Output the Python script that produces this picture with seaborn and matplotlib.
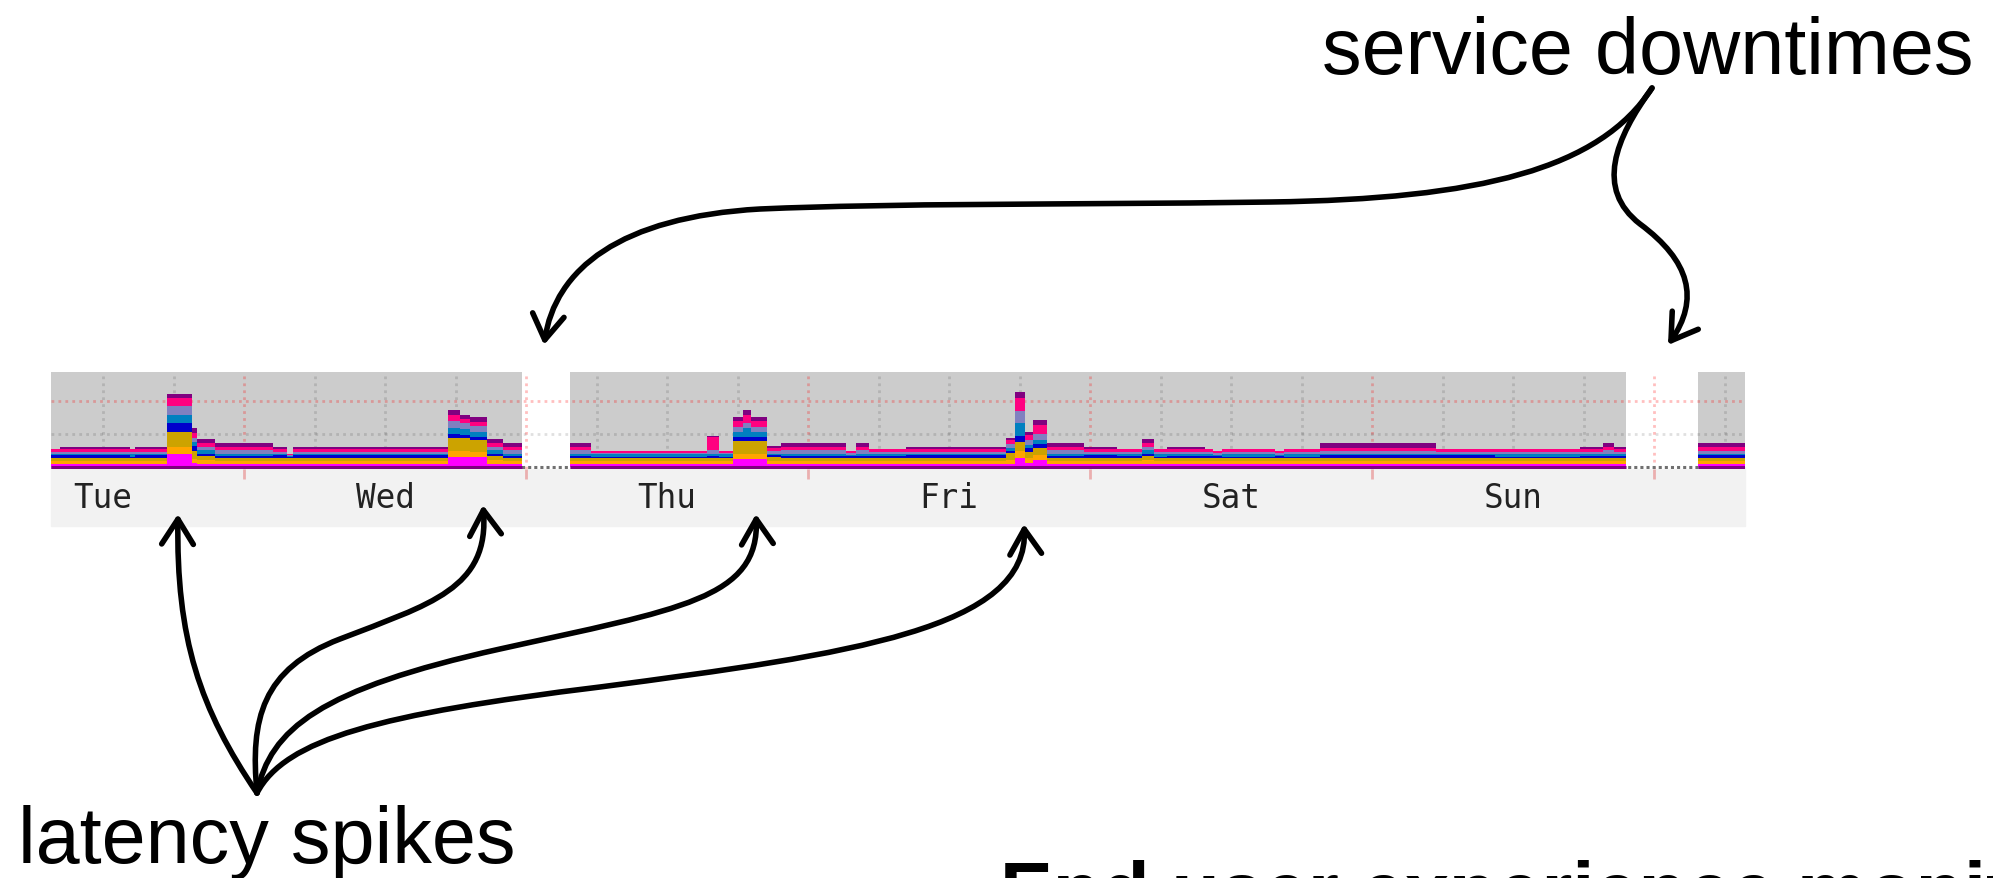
import numpy as np
import pandas as pd
import matplotlib
matplotlib.use('Agg')
import matplotlib.pyplot as plt
import matplotlib.transforms as mtransforms
import seaborn as sns
from matplotlib.path import Path
from matplotlib.patches import FancyArrowPatch, Rectangle

# segment edges in hours since Tuesday 00:00 (last value closes the last segment)
t_edges = [7.57, 8.34, 14.30, 14.72, 17.45, 19.57, 20.00, 21.53, 26.47, 27.66,
           28.17, 41.36, 42.38, 43.23, 44.68, 46.04, 47.66, 51.74, 53.53, 63.40,
           64.43, 65.60, 66.47, 67.15, 68.50, 69.70, 75.23, 76.10, 77.20, 80.30,
           88.85, 89.60, 90.47, 91.15, 92.34, 95.50, 98.30, 100.40, 101.40, 102.55,
           105.80, 106.50, 107.20, 111.70, 112.50, 115.60, 125.45, 130.50, 137.70, 139.66,
           140.60, 141.60, 147.70, 151.74]

# stacked latency components, bottom to top (one value per segment)
magenta = [0.09, 0.09, 0.09, 0.09, 0.40, 0.12, 0.10, 0.09, 0.09, 0.09,
           0.09, 0.32, 0.32, 0.30, 0.10, 0.09, 0.00, 0.09, 0.09, 0.09,
           0.09, 0.25, 0.25, 0.25, 0.09, 0.09, 0.09, 0.09, 0.09, 0.09,
           0.10, 0.28, 0.12, 0.22, 0.09, 0.09, 0.09, 0.10, 0.09, 0.09,
           0.09, 0.09, 0.09, 0.09, 0.09, 0.09, 0.09, 0.09, 0.09, 0.09,
           0.09, 0.00, 0.09]
orange = [0.10, 0.10, 0.10, 0.10, 0.22, 0.12, 0.11, 0.10, 0.10, 0.10,
          0.10, 0.18, 0.18, 0.16, 0.11, 0.10, 0.00, 0.10, 0.10, 0.10,
          0.10, 0.15, 0.15, 0.15, 0.10, 0.10, 0.10, 0.10, 0.10, 0.10,
          0.12, 0.20, 0.15, 0.15, 0.10, 0.10, 0.10, 0.11, 0.10, 0.10,
          0.10, 0.10, 0.10, 0.10, 0.10, 0.10, 0.10, 0.10, 0.10, 0.10,
          0.10, 0.00, 0.10]
gold = [0.10, 0.10, 0.10, 0.10, 0.46, 0.25, 0.14, 0.10, 0.10, 0.08,
        0.10, 0.38, 0.38, 0.36, 0.14, 0.10, 0.00, 0.10, 0.10, 0.10,
        0.10, 0.38, 0.38, 0.38, 0.12, 0.10, 0.10, 0.10, 0.10, 0.10,
        0.20, 0.28, 0.20, 0.20, 0.10, 0.10, 0.10, 0.14, 0.10, 0.10,
        0.10, 0.10, 0.10, 0.10, 0.10, 0.10, 0.10, 0.10, 0.10, 0.10,
        0.10, 0.00, 0.10]
blue = [0.07, 0.07, 0.03, 0.07, 0.26, 0.15, 0.06, 0.04, 0.07, 0.04,
        0.08, 0.12, 0.10, 0.10, 0.06, 0.06, 0.00, 0.06, 0.02, 0.04,
        0.02, 0.15, 0.15, 0.15, 0.05, 0.04, 0.05, 0.06, 0.06, 0.07,
        0.06, 0.20, 0.10, 0.12, 0.06, 0.07, 0.05, 0.06, 0.03, 0.04,
        0.05, 0.05, 0.03, 0.05, 0.02, 0.07, 0.07, 0.02, 0.04, 0.06,
        0.04, 0.00, 0.07]
teal = [0.03, 0.03, 0.07, 0.03, 0.26, 0.12, 0.10, 0.08, 0.03, 0.03,
        0.02, 0.20, 0.18, 0.16, 0.10, 0.06, 0.00, 0.06, 0.08, 0.08,
        0.08, 0.15, 0.25, 0.15, 0.05, 0.08, 0.04, 0.06, 0.04, 0.03,
        0.10, 0.38, 0.10, 0.12, 0.06, 0.03, 0.05, 0.10, 0.07, 0.06,
        0.05, 0.04, 0.07, 0.04, 0.08, 0.03, 0.03, 0.08, 0.06, 0.06,
        0.06, 0.00, 0.03]
lavender = [0.08, 0.08, 0.08, 0.08, 0.26, 0.14, 0.10, 0.10, 0.08, 0.03,
            0.08, 0.20, 0.18, 0.16, 0.10, 0.10, 0.00, 0.10, 0.04, 0.10,
            0.04, 0.15, 0.15, 0.15, 0.08, 0.10, 0.05, 0.10, 0.08, 0.08,
            0.12, 0.38, 0.15, 0.20, 0.10, 0.08, 0.08, 0.10, 0.08, 0.08,
            0.08, 0.05, 0.08, 0.05, 0.08, 0.10, 0.08, 0.08, 0.08, 0.10,
            0.08, 0.00, 0.10]
pink = [0.08, 0.08, 0.08, 0.08, 0.26, 0.15, 0.12, 0.10, 0.08, 0.03,
        0.08, 0.19, 0.14, 0.14, 0.12, 0.10, 0.00, 0.10, 0.06, 0.40,
        0.06, 0.17, 0.26, 0.17, 0.08, 0.10, 0.06, 0.10, 0.08, 0.08,
        0.12, 0.40, 0.15, 0.28, 0.10, 0.08, 0.08, 0.12, 0.08, 0.08,
        0.08, 0.06, 0.08, 0.06, 0.08, 0.10, 0.08, 0.08, 0.08, 0.10,
        0.08, 0.00, 0.12]
purple = [0.00, 0.06, 0.00, 0.06, 0.10, 0.15, 0.12, 0.12, 0.06, 0.00,
          0.06, 0.15, 0.12, 0.14, 0.12, 0.12, 0.00, 0.12, 0.00, 0.04,
          0.00, 0.12, 0.15, 0.12, 0.07, 0.12, 0.00, 0.12, 0.00, 0.06,
          0.08, 0.18, 0.10, 0.14, 0.12, 0.06, 0.00, 0.12, 0.00, 0.06,
          0.00, 0.00, 0.00, 0.00, 0.00, 0.14, 0.00, 0.00, 0.06, 0.12,
          0.06, 0.00, 0.12]

layer_names = ['magenta', 'orange', 'gold', 'blue', 'teal', 'lavender', 'pink', 'purple']
layer_colors = ['#FF00FF', '#FFA500', '#CCA300', '#0000CC', '#0080C0', '#8080C0', '#FF0080', '#800080']

day_labels = ['Tue', 'Wed', 'Thu', 'Fri', 'Sat', 'Sun']
day_noons = [12, 36, 60, 84, 108, 132]
downtimes = [(47.66, 51.74), (141.60, 147.70)]

# long table for seaborn
edges = np.array(t_edges)
mids = (edges[:-1] + edges[1:]) / 2
layers = [magenta, orange, gold, blue, teal, lavender, pink, purple]
df = pd.concat([pd.DataFrame({'t': mids, 'v': vals, 'layer': name})
                for name, vals in zip(layer_names, layers)], ignore_index=True)

sns.set_style('white')
plt.rcParams['font.family'] = ['Liberation Sans', 'DejaVu Sans']
plt.rcParams['text.color'] = 'black'

W, H = 1993, 879
fig = plt.figure(figsize=(W / 100, H / 100), dpi=100)
fig.patch.set_facecolor('white')


def fx(x):
    return x / W


def fy(y):
    return 1 - y / H


# pixel transform (origin top-left) for annotations
pix = mtransforms.Affine2D().scale(1 / W, -1 / H).translate(0, 1) + fig.transFigure

# light band under the graph holding the day labels
fig.add_artist(Rectangle((fx(51), fy(527)), fx(1745) - fx(51), fy(468) - fy(527),
                         transform=fig.transFigure, color='#F2F2F2', zorder=-1))

ax = fig.add_axes([fx(51), fy(470), fx(1745) - fx(51), fy(373) - fy(470)])
ax.set_facecolor('#CCCCCC')

for start, end in downtimes:
    ax.axvspan(start, end, color='white', lw=0, zorder=1)

# grid: every 6 h, midnight in red; horizontal minor/major
dots = (0, (1, 1.5))
for h in np.arange(12, 151, 6):
    c = (1, 0, 0, 0.25) if h % 24 == 0 else (0, 0, 0, 0.12)
    ax.axvline(h, color=c, lw=2, ls=dots, zorder=2)
ax.axhline(1, color=(0, 0, 0, 0.12), lw=2, ls=dots, zorder=2)
ax.axhline(2, color=(1, 0, 0, 0.25), lw=2, ls=dots, zorder=2)

# seaborn stacks the first hue level on top, so feed the layers top-down
sns.histplot(data=df, x='t', weights='v', hue='layer', hue_order=layer_names[::-1],
             palette=layer_colors[::-1], bins=t_edges, multiple='stack', element='step',
             alpha=1, linewidth=0, legend=False, ax=ax, zorder=3)

# baseline: purple where data exists, grey dashed during downtimes
ax.axhline(0, color='#707070', lw=2.2, ls=(0, (1, 1)), zorder=2)
up_starts = [t_edges[0]] + [e for s, e in downtimes]
up_ends = [s for s, e in downtimes] + [t_edges[-1]]
ax.hlines([0] * len(up_starts), up_starts, up_ends, color='#800080', lw=2.2, zorder=4)

ax.set_xlim(t_edges[0], t_edges[-1])
ax.set_ylim(-0.061, 2.90)
ax.set_xlabel('')
ax.set_ylabel('')
ax.set_yticks([])
ax.set_xticks(day_noons, day_labels)
ax.set_xticks(np.arange(24, 151, 24), minor=True)
ax.tick_params(axis='x', which='major', bottom=True, length=0, pad=9,
               labelsize=23.5, labelcolor='#222222')
ax.tick_params(axis='x', which='minor', bottom=True, length=7.5, width=2, color='#EBAFAF')
for lab in ax.get_xticklabels():
    lab.set_family('DejaVu Sans Mono')
sns.despine(ax=ax, left=True, bottom=True)

# annotation arrows
C4, M = Path.CURVE4, Path.MOVETO


def arrow(points, codes, lw=4.0):
    a = FancyArrowPatch(path=Path(points, codes),
                        arrowstyle='->,head_length=0.6,head_width=0.38',
                        mutation_scale=30, lw=lw, color='black',
                        transform=pix, zorder=10, joinstyle='round', capstyle='round')
    fig.add_artist(a)


# service downtimes
arrow([(1652, 89), (1600, 170), (1480, 200), (1271, 203),
       (1050, 206), (900, 204), (760, 210),
       (620, 218), (555, 270), (544, 346)],
      [M, C4, C4, C4, C4, C4, C4, C4, C4, C4])
arrow([(1652, 89), (1615, 140), (1595, 190), (1640, 225),
       (1690, 262), (1700, 300), (1668, 346)],
      [M, C4, C4, C4, C4, C4, C4])

# latency spikes
arrow([(257, 794), (200, 710), (176, 640), (178, 515)], [M, C4, C4, C4])
arrow([(257, 794), (250, 720), (262, 670), (340, 640),
       (430, 605), (490, 590), (483, 506)], [M, C4, C4, C4, C4, C4, C4])
arrow([(257, 794), (270, 730), (320, 690), (500, 650),
       (680, 610), (760, 600), (756, 515)], [M, C4, C4, C4, C4, C4, C4])
arrow([(257, 794), (285, 740), (380, 715), (600, 688),
       (850, 655), (1030, 630), (1024, 525)], [M, C4, C4, C4, C4, C4, C4])

fig.text(fx(1322), fy(74), 'service downtimes', fontsize=57, va='baseline', ha='left')
fig.text(fx(18), fy(863), 'latency spikes', fontsize=57, va='baseline', ha='left')
fig.text(fx(1000), fy(860), 'End user experience monitoring', fontsize=57,
         fontweight='bold', va='top', ha='left')

fig.savefig('out.png', dpi=100)
